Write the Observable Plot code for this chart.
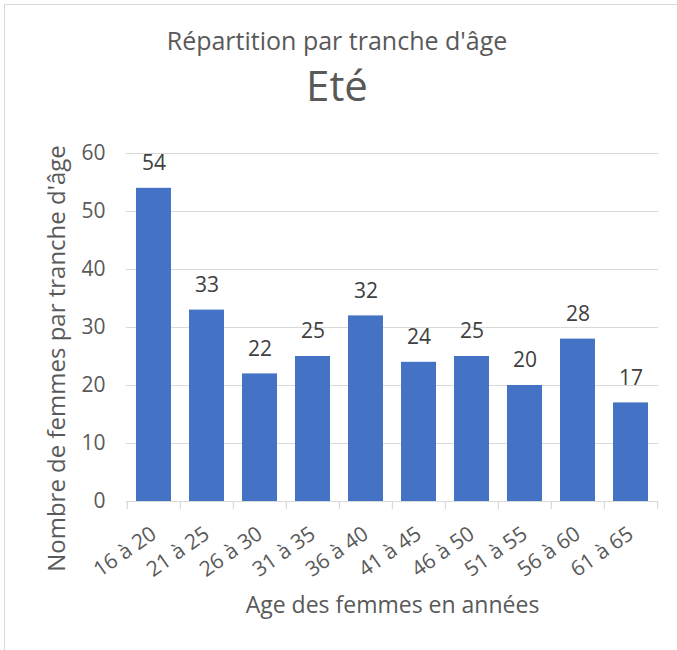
<!DOCTYPE html>
<html><head><meta charset="utf-8">
<script src="https://cdn.jsdelivr.net/npm/d3@7"></script>
<script src="https://cdn.jsdelivr.net/npm/@observablehq/plot@0.6"></script>
<style>
body{margin:0;background:#fff;}
#wrap{position:relative;width:677px;height:650px;overflow:hidden;font-family:"Open Sans",sans-serif;color:#595959;}
#frame{position:absolute;left:4px;top:4px;width:700px;height:700px;border:1px solid #d9d9d9;box-sizing:border-box;}
#chart{position:absolute;left:0;top:0;}
</style></head><body>
<div id="wrap"><div id="frame"></div>
<div id="chart"></div>
</div>
<script>
const categories = ["16 à 20","21 à 25","26 à 30","31 à 35","36 à 40","41 à 45","46 à 50","51 à 55","56 à 60","61 à 65"];
const values = [54,33,22,25,32,24,25,20,28,17];
const yTicks = [0,10,20,30,40,50,60];
const title = "Répartition par tranche d'âge";
const subtitle = "Eté";
const xTitle = "Age des femmes en années";
const yTitle = "Nombre de femmes par tranche d'âge";

const data = categories.map((c,i)=>({c, v: values[i]}));
const marginLeft = 126, marginRight = 19, marginTop = 153, W = 677;
const step = (W - marginLeft - marginRight) / categories.length;
const cx = W / 2 - 2; // chart-area centre for titles

const chart = Plot.plot({
  width: W, height: 650,
  marginTop, marginBottom: 149, marginLeft, marginRight,
  style: {fontFamily: "'Open Sans', sans-serif", color: "#595959", background: "transparent", overflow: "visible"},
  x: {domain: categories, paddingInner: 0.34, paddingOuter: 0.17, label: null, axis: null},
  y: {domain: [0, 60], ticks: yTicks, label: null, axis: null},
  marks: [
    Plot.gridY(yTicks.filter(t => t > 0), {stroke: "#d9d9d9", strokeOpacity: 1, strokeWidth: 1}),
    Plot.barY(data, {x: "c", y: "v", fill: "#4472C4"}),
    Plot.ruleY([0], {stroke: "#d9d9d9", strokeWidth: 1.2}),
    Plot.ruleX(categories, {x: d => d, y1: 0, y2: -1.4, dx: -step/2, stroke: "#d9d9d9", strokeWidth: 1.2}),
    Plot.ruleX([categories[categories.length-1]], {x: d => d, y1: 0, y2: -1.4, dx: step/2, stroke: "#d9d9d9", strokeWidth: 1.2}),
    Plot.axisY({ticks: yTicks, tickSize: 0, tickPadding: 21, fontSize: 21, label: null}),
    Plot.axisX({tickSize: 0, tickRotate: -35, tickPadding: 30, fontSize: 21, label: null}),
    Plot.text(data, {x: "c", y: "v", text: d => String(d.v), dy: -25, fontSize: 21, fill: "#404040"}),
    Plot.text([title], {frameAnchor: "top-left", text: d => d, dx: cx - marginLeft, dy: 32 - marginTop, fontSize: 25, fill: "#595959", textAnchor: "middle"}),
    Plot.text([subtitle], {frameAnchor: "top-left", text: d => d, dx: cx - marginLeft, dy: 71 - marginTop, fontSize: 42, fill: "#595959", textAnchor: "middle"}),
    Plot.text([xTitle], {frameAnchor: "bottom", text: d => d, dy: 111, fontSize: 23, fill: "#595959"}),
    Plot.text([yTitle], {frameAnchor: "left", text: d => d, rotate: -90, textAnchor: "middle", dx: -69, dy: 31, fontSize: 24, fill: "#595959"})
  ]
});
document.getElementById("chart").appendChild(chart);
</script>
</body></html>
